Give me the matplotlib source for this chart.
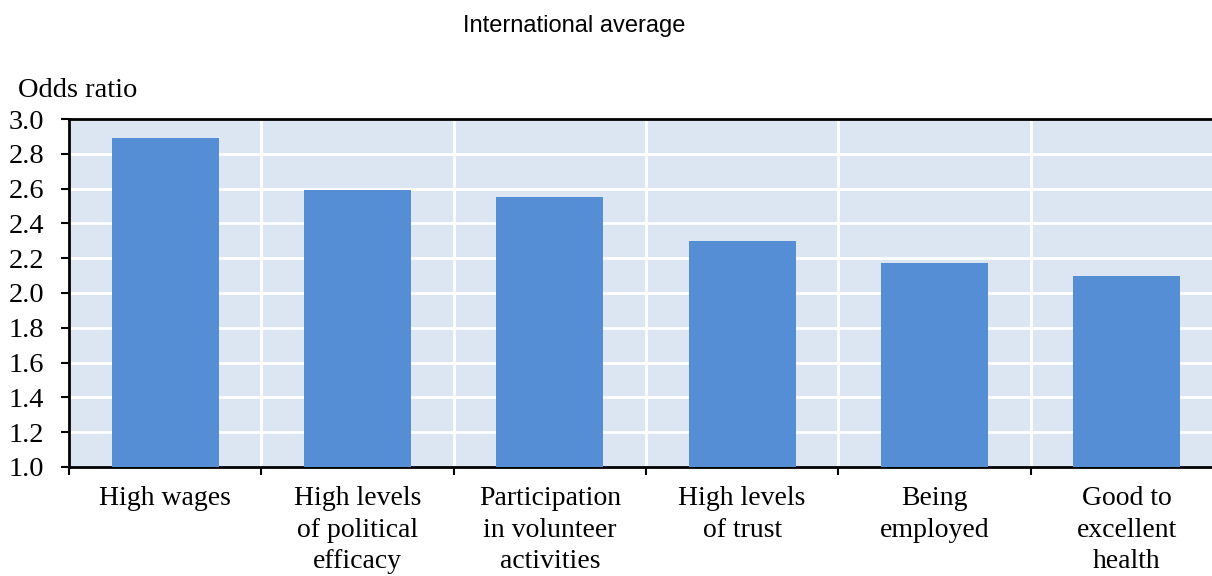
import matplotlib
matplotlib.use("Agg")
import matplotlib.pyplot as plt
import numpy as np

categories = ["High wages", "High levels\nof political\nefficacy", "Participation\nin volunteer\nactivities",
              "High levels\nof trust", "Being\nemployed", "Good to\nexcellent\nhealth"]
values = [2.89, 2.59, 2.55, 2.30, 2.17, 2.10]
yticks = [1.0, 1.2, 1.4, 1.6, 1.8, 2.0, 2.2, 2.4, 2.6, 2.8, 3.0]

W, H = 1212, 576
fig = plt.figure(figsize=(W / 100, H / 100), dpi=100)
left, right, top, bottom = 69, 1223, 119, 467
ax = fig.add_axes([left / W, (H - bottom) / H, (right - left) / W, (bottom - top) / H])
ax.set_facecolor("#dce6f2")

x = np.arange(len(categories))
ax.bar(x, [v - 1.0 for v in values], bottom=1.0, width=0.555, color="#558ed5", zorder=3)

ax.set_xlim(-0.5, len(categories) - 0.5)
ax.set_ylim(1.0, 3.0)

serif = "Liberation Serif"
ax.set_yticks(yticks)
ax.set_yticklabels([f"{t:.1f}" for t in yticks], fontfamily=serif, fontsize=20.5)
bounds = np.arange(-0.5, len(categories), 1.0)
ax.set_xticks(bounds)
ax.set_xticklabels([""] * len(bounds))
ax.set_xticks(x, minor=True)
ax.set_xticklabels(categories, minor=True, fontfamily=serif, fontsize=20, linespacing=1.33)
ax.tick_params(axis="x", which="minor", length=0, pad=14)
ax.tick_params(axis="x", which="major", length=6, width=1.5, direction="out")
ax.tick_params(axis="y", length=6, width=1.5, direction="out", pad=12)

ax.grid(True, axis="both", which="major", color="white", linewidth=2, zorder=1)
ax.set_axisbelow(True)
for s in ["left", "bottom", "top"]:
    ax.spines[s].set_color("black")
    ax.spines[s].set_linewidth(2)
ax.spines["right"].set_visible(False)

fig.text(574 / W, 1 - 32 / H, "International average", ha="center", va="baseline",
         fontfamily="Liberation Sans", fontsize=17)
fig.text(18 / W, 1 - 97 / H, "Odds ratio", ha="left", va="baseline", fontfamily=serif, fontsize=20.5)

fig.savefig("out.png", dpi=100)
